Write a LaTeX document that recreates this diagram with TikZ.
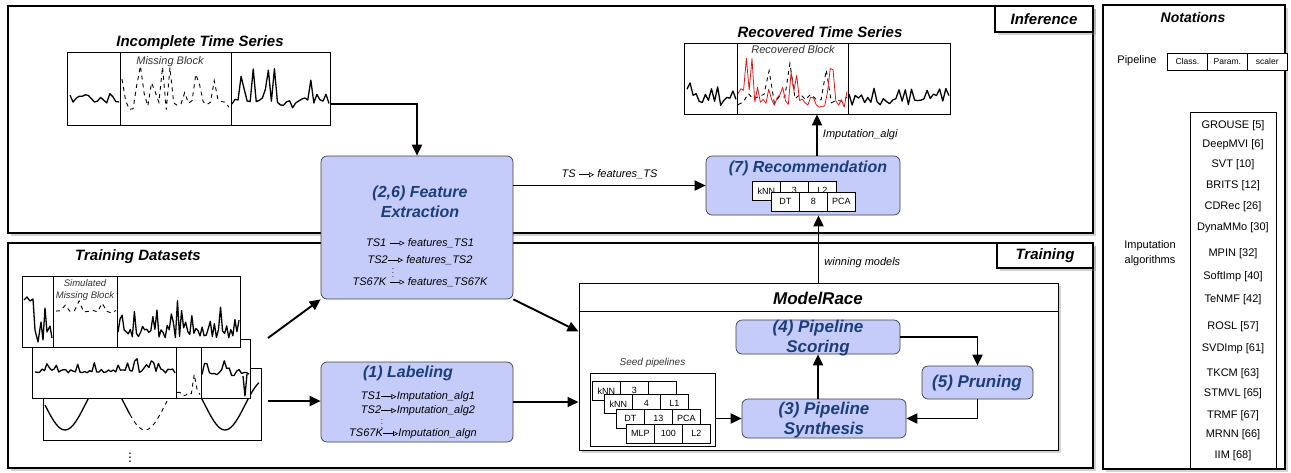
\documentclass[tikz,border=0pt]{standalone}
\usepackage{fontspec}
\setmainfont{Liberation Sans}
\usepackage{tikz}
\usetikzlibrary{positioning}
\usetikzlibrary{arrows.meta}
\usetikzlibrary{shadows}
\usetikzlibrary{fit}
\usetikzlibrary{calc}

\definecolor{stagefill}{RGB}{198,204,249}
\definecolor{stagetext}{RGB}{27,62,122}
\definecolor{recovred}{RGB}{232,20,20}

% small open-headed arrow used inside the text lines
\newcommand{\mapto}{\tikz[baseline=-0.55ex,x=1cm,y=1cm]\draw[line width=0.6pt,-{Triangle[open,length=5pt,width=5pt]}] (0,0) -- (15pt,0);}
% noisy series: style, from, to, samples, low y, spike height, seed
\newcommand{\tsplot}[7]{%
  \pgfmathsetseed{#7}%
  \draw[#1] plot[variable=\t, domain=#2:#3, samples=#4] (\t, {#5-#6*(0.2*rnd+0.8*rnd^5)});}

\begin{document}
\begin{tikzpicture}[x=1pt, y=-1pt,
  panel/.style={draw, fill=white, line width=1.3pt, inner sep=0pt, drop shadow={opacity=0.35, shadow xshift=2.5pt, shadow yshift=-2.5pt}},
  tag/.style={panel, inner sep=0pt, font=\fontsize{15}{17}\selectfont\bfseries\itshape},
  stage/.style={draw=black!75, fill=stagefill, rounded corners=6pt, line width=0.7pt, inner sep=0pt},
  stagename/.style={text=stagetext, font=\fontsize{16}{20}\selectfont\bfseries\itshape, align=center},
  heading/.style={font=\fontsize{15}{17}\selectfont\bfseries\itshape},
  frame/.style={draw, fill=white, line width=0.8pt, inner sep=0pt},
  mapline/.style={font=\fontsize{11}{13}\selectfont\itshape, inner sep=0pt},
  note/.style={font=\fontsize{11}{13}\selectfont\itshape, text=black!80},
  plain/.style={font=\fontsize{11}{15}\selectfont, align=center},
  cell/.style={draw, fill=white, line width=0.6pt, minimum width=28, minimum height=19, inner sep=0pt, anchor=north west, font=\fontsize{9}{10}\selectfont, drop shadow={opacity=0.3, shadow xshift=1pt, shadow yshift=-1pt}},
  flow/.style={line width=1.9pt, -{Triangle[length=11pt, width=10pt]}},
  ts/.style={line width=1.3pt, line join=round},
  gap/.style={line width=0.9pt, dash pattern=on 4pt off 4pt},
]
\useasboundingbox (0,0) rectangle (1291,472);

% panels
\node[panel, fit={(8,6) (1093,233)}] (infer) {};
\node[panel, fit={(8,243) (1093,468)}] (train) {};
\node[panel, fit={(1103,5) (1285,469)}] (notes) {};
\node[tag, anchor=north east, minimum width=98, minimum height=26] (infertag) at (infer.north east) {Inference};
\node[tag, anchor=north east, minimum width=96, minimum height=25] (traintag) at (train.north east) {Training};

% notations
\node[heading, font=\fontsize{14}{16}\selectfont\bfseries\itshape] (notetitle) at (1193,17) {Notations};
\node[plain] (pipelbl) at (1137,61) {Pipeline};
\foreach \n/\px/\txt in {a/1167/Class., b/1207/Param., c/1247/scaler}
  \node[cell, minimum width=40, minimum height=17, font=\fontsize{8.5}{10}\selectfont] (note-\n) at (\px,53) {\txt};
\node[frame, fit={(1190,112) (1276,468)}] (alglist) {};
\node[plain] (alglbl) at (1150,253) {Imputation\\algorithms};
\foreach \i/\y/\alg in {1/126/GROUSE [5], 2/145/DeepMVI [6], 3/165/SVT [10], 4/186/BRITS [12],
    5/207/CDRec [26], 6/228/DynaMMo [30], 7/254/MPIN [32], 8/277/SoftImp [40], 9/300/TeNMF [42],
    10/327/ROSL [57], 11/349/SVDImp [61], 12/374/TKCM [63], 13/394/STMVL [65], 14/416/TRMF [67],
    15/435/MRNN [66], 16/456/IIM [68]}
  \node[plain] (alg-\i) at (1233,\y) {\alg};

% incomplete series
\node[heading] (inctitle) at (200,43) {Incomplete Time Series};
\node[frame, fit={(67,52) (330,125)}] (inc) {};
\draw[line width=0.8pt] (120,52) -- (120,125) (231,52) -- (231,125);
\node[note] (missing) at (170,62) {Missing Block};
\tsplot{ts}{70}{119}{17}{104}{45}{11}
\tsplot{gap}{122}{229}{30}{110}{52}{12}
\tsplot{ts}{232}{329}{33}{108}{45}{13}

% recovered series
\node[heading] (rectitle) at (820,32) {Recovered Time Series};
\node[frame, fit={(684,43) (950,114)}] (recov) {};
\draw[line width=0.8pt] (737,43) -- (737,114) (848,43) -- (848,114);
\node[note] (recblock) at (793,50) {Recovered Block};
\tsplot{ts}{687}{736}{17}{106}{40}{21}
\tsplot{gap}{738}{847}{22}{106}{55}{22}
\tsplot{line width=0.8pt, recovred, line join=round}{738}{847}{40}{108}{58}{23}
\tsplot{ts}{849}{949}{33}{106}{40}{24}

% training datasets
\node[heading] (dstitle) at (138,257) {Training Datasets};
\node[frame, fit={(43,368) (261,440)}] (ds3) {};
\draw[ts] plot[variable=\t, domain=45:130, samples=40] (\t, {405+25*sin((\t-45)*4.5)});
\draw[gap] plot[variable=\t, domain=130:175, samples=16] (\t, {405+25*sin((\t-45)*4.5)});
\draw[ts] plot[variable=\t, domain=175:259, samples=40] (\t, {405+25*sin((\t-45)*4.5)});
\node[frame, fit={(32,339) (250,398)}] (ds2) {};
\draw[line width=0.8pt] (176,339) -- (176,398) (201,339) -- (201,398);
\tsplot{ts}{35}{175}{60}{373}{16}{31}
\tsplot{gap}{177}{200}{9}{396}{26}{32}
\tsplot{ts}{202}{249}{20}{376}{18}{33}
\draw[ts] (243,376) -- (245,396) -- (247,374);
\node[frame, fit={(22,276) (240,347)}] (ds1) {};
\draw[line width=0.8pt] (53,276) -- (53,347) (117,276) -- (117,347);
\draw[ts] (24,300) -- (27,297) -- (30,301) -- (33,299) -- (35,330) -- (38,342) -- (41,322)
  -- (43,340) -- (45,308) -- (47,332) -- (50,326) -- (52,338);
\node[note, font=\fontsize{9.5}{12}\selectfont\itshape, align=center] (simblock) at (85,290) {Simulated\\Missing Block};
\tsplot{gap}{56}{116}{14}{313}{14}{34}
\tsplot{ts}{118}{239}{60}{338}{45}{35}
\node[font=\fontsize{14}{16}\selectfont] (dsdots) at (130,455) {$\vdots$};
\coordinate (dsup) at (268,338);
\coordinate (dslow) at (268,401);

% (2,6) feature extraction
\node[stage, fit={(321,156) (513,299)}] (feat) {};
\node[stagename] (feattitle) at (420,202) {(2,6) Feature\\Extraction};
\node[mapline] (feat-1) at (420,243) {TS1 \mapto{} features\_TS1};
\node[mapline] (feat-2) at (420,260) {TS2\mapto{} features\_TS2};
\node[font=\fontsize{8}{9}\selectfont] (feat-dots) at (393,270) {$\vdots$};
\node[mapline] (feat-3) at (420,282) {TS67K \mapto{} features\_TS67K};

% (1) labeling
\node[stage, fit={(321,362) (513,442)}] (lab) {};
\node[stagename] (labtitle) at (408,373) {(1) Labeling};
\node[mapline] (lab-1) at (418,397) {TS1\mapto{}Imputation\_alg1};
\node[mapline] (lab-2) at (418,411) {TS2\mapto{}Imputation\_alg2};
\node[font=\fontsize{8}{9}\selectfont] (lab-dots) at (382,421) {$\vdots$};
\node[mapline] (lab-3) at (413,434) {TS67K\mapto{}Imputation\_algn};

% (7) recommendation
\node[stage, fit={(706,156) (900,215)}] (rec) {};
\node[stagename] (rectitle) at (808,168) {(7) Recommendation};
\foreach \r/\px/\py/\a/\b/\c in {1/752/181/kNN/3/L2, 2/771/192/DT/8/PCA} {
  \node[cell] (rec-\r-a) at (\px,\py) {\a};
  \node[cell] (rec-\r-b) at (\px+28,\py) {\b};
  \node[cell] (rec-\r-c) at (\px+56,\py) {\c};
}

% modelrace
\node[panel, line width=1pt, fit={(579,283) (1058,450)}] (race) {};
\draw[line width=0.8pt] ([yshift=-29pt]race.north west) -- ([yshift=-29pt]race.north east);
\node[heading, font=\fontsize{17}{20}\selectfont\bfseries\itshape] (racetitle) at (818,298) {ModelRace};
\node[stage, fit={(736,320) (900,354)}] (score) {};
\node[stagename, font=\fontsize{17}{20}\selectfont\bfseries\itshape] (scoretitle) at (818,338) {(4) Pipeline\\Scoring};
\node[stage, fit={(922,366) (1033,399)}] (prune) {};
\node[stagename, font=\fontsize{17}{20}\selectfont\bfseries\itshape] (prunetitle) at (977,383) {(5) Pruning};
\node[stage, fit={(742,399) (906,438)}] (synth) {};
\node[stagename, font=\fontsize{17}{20}\selectfont\bfseries\itshape] (synthtitle) at (824,420) {(3) Pipeline\\Synthesis};

% seed pipelines
\node[frame, fit={(590,373) (715,446)}] (seed) {};
\node[note, font=\fontsize{10}{12}\selectfont\itshape, above=1pt of seed.north] (seedlbl) {Seed pipelines};
\foreach \r/\px/\py/\a/\b/\c in {1/592/381/kNN/3/, 2/604/394/kNN/4/L1, 3/616/409/DT/13/PCA, 4/626/424/MLP/100/L2} {
  \node[cell] (seed-\r-a) at (\px,\py) {\a};
  \node[cell] (seed-\r-b) at (\px+28,\py) {\b};
  \node[cell] (seed-\r-c) at (\px+56,\py) {\c};
}

% connectors
\coordinate (incout) at ([yshift=-15.5pt]inc.east);
\draw[flow] (incout) -| (feat.north);
\draw[flow] (feat.east |- rec.west) -- node[mapline, above=6pt] (tsmap) {TS \mapto{} features\_TS} (rec.west);
\draw[flow] (rec.north -| recov.south) -- node[mapline, right=5pt] (algi) {Imputation\_algi} (recov.south);
\draw[flow] (race.north) -- node[mapline, right=5pt, pos=0.3] (winning) {winning models} (race.north |- rec.south);
\draw[flow] (dsup) -- (feat.south west);
\draw[flow] (dslow) -- (dslow -| lab.west);
\coordinate (racein) at ([yshift=-49pt]race.north west);
\draw[flow] (feat.south east) -- (racein);
\draw[flow] (lab.east) -- (lab.east -| race.west);
\draw[flow] (seed.east |- synth.west) -- (synth.west);
\draw[flow] (synth.north -| score.south) -- (score.south);
\draw[flow] (score.east) -| (prune.north);
\draw[flow] (prune.south) |- (synth.east);
\end{tikzpicture}
\end{document}
